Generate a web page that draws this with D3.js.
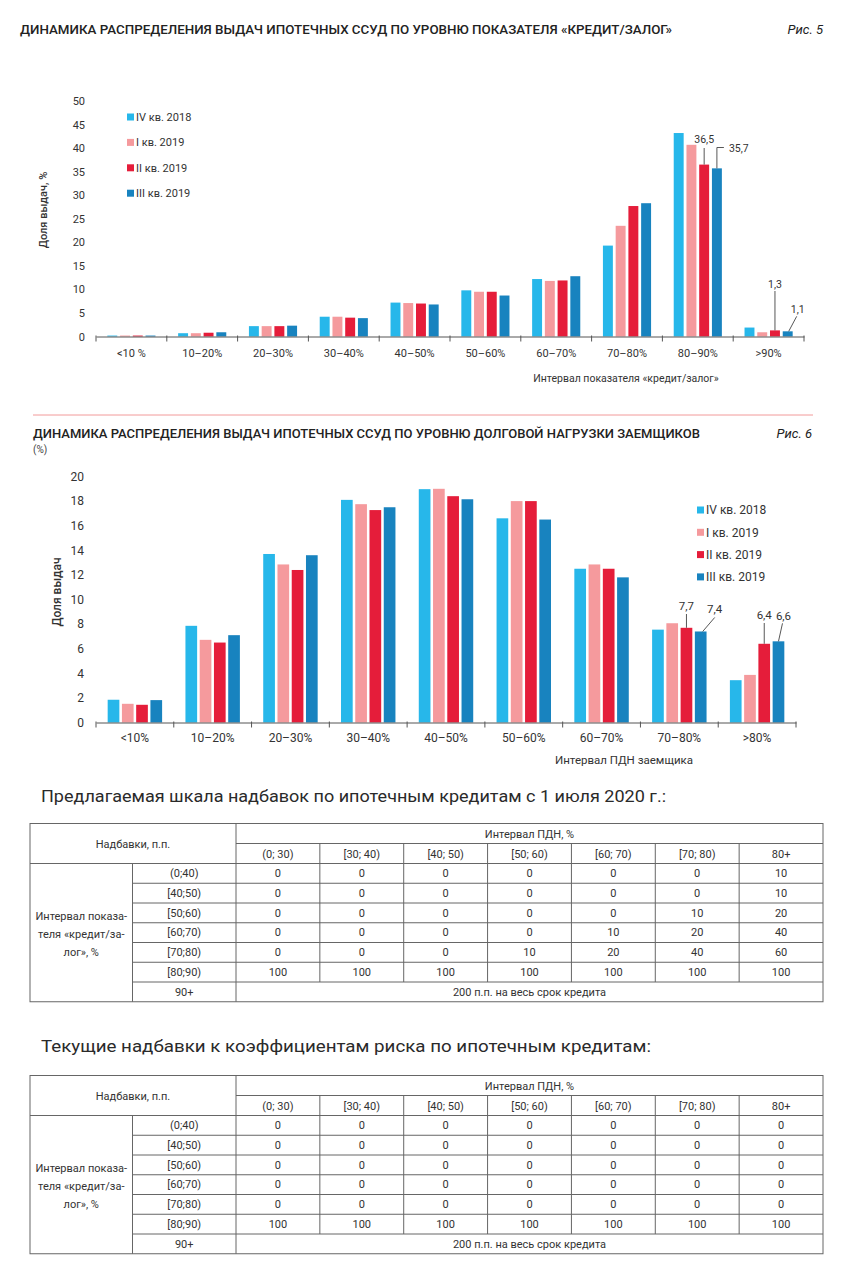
<!DOCTYPE html>
<html><head><meta charset="utf-8">
<script src="https://cdn.jsdelivr.net/npm/d3@7/dist/d3.min.js"></script>
<style>
body{margin:0;background:#fff;}
svg{display:block;font-family:Roboto,"Noto Sans",sans-serif;}
</style></head>
<body>
<script>
// ---------- DATA ----------
const seriesNames = ["IV кв. 2018", "I кв. 2019", "II кв. 2019", "III кв. 2019"];
const seriesColors = ["#27b7ea", "#f59a9d", "#e51d3a", "#1883bf"];

const ltvCategories = ["<10 %", "10–20%", "20–30%", "30–40%", "40–50%", "50–60%", "60–70%", "70–80%", "80–90%", ">90%"];
const ltvIV2018  = [0.2, 0.7, 2.2, 4.2, 7.2, 9.8, 12.2, 19.3, 43.2, 1.9];
const ltvI2019   = [0.2, 0.7, 2.2, 4.2, 7.1, 9.5, 11.8, 23.5, 40.7, 0.9];
const ltvII2019  = [0.2, 0.8, 2.2, 4.0, 7.0, 9.5, 11.9, 27.7, 36.5, 1.3];
const ltvIII2019 = [0.2, 0.9, 2.3, 3.9, 6.8, 8.7, 12.8, 28.3, 35.7, 1.1];
const ltvTicks = [0, 5, 10, 15, 20, 25, 30, 35, 40, 45, 50];
const ltvNotes = [
  {cat: "80–90%", series: 2, label: "36,5", kind: "up"},
  {cat: "80–90%", series: 3, label: "35,7", kind: "elbow"},
  {cat: ">90%",   series: 2, label: "1,3",  kind: "upTall"},
  {cat: ">90%",   series: 3, label: "1,1",  kind: "diag"}
];

const ptiCategories = ["<10%", "10–20%", "20–30%", "30–40%", "40–50%", "50–60%", "60–70%", "70–80%", ">80%"];
const ptiIV2018  = [1.85, 7.86, 13.7, 18.1, 18.97, 16.6, 12.5, 7.55, 3.44];
const ptiI2019   = [1.52, 6.72, 12.85, 17.75, 19.0, 18.0, 12.85, 8.07, 3.87];
const ptiII2019  = [1.44, 6.5, 12.4, 17.27, 18.4, 18.0, 12.5, 7.7, 6.4];
const ptiIII2019 = [1.82, 7.1, 13.6, 17.5, 18.15, 16.5, 11.8, 7.4, 6.6];
const ptiTicks = [0, 2, 4, 6, 8, 10, 12, 14, 16, 18, 20];
const ptiNotes = [
  {cat: "70–80%", series: 2, label: "7,7", kind: "up2"},
  {cat: "70–80%", series: 3, label: "7,4", kind: "diag2"},
  {cat: ">80%",   series: 2, label: "6,4", kind: "up3"},
  {cat: ">80%",   series: 3, label: "6,6", kind: "slant"}
];

const tableRowLabels = ["(0;40)", "[40;50)", "[50;60)", "[60;70)", "[70;80)", "[80;90)", "90+"];
const tableColLabels = ["(0; 30)", "[30; 40)", "[40; 50)", "[50; 60)", "[60; 70)", "[70; 80)", "80+"];
const proposedValues = [
  [0, 0, 0, 0, 0, 0, 10],
  [0, 0, 0, 0, 0, 0, 10],
  [0, 0, 0, 0, 0, 10, 20],
  [0, 0, 0, 0, 10, 20, 40],
  [0, 0, 0, 10, 20, 40, 60],
  [100, 100, 100, 100, 100, 100, 100]
];
const currentValues = [
  [0, 0, 0, 0, 0, 0, 0],
  [0, 0, 0, 0, 0, 0, 0],
  [0, 0, 0, 0, 0, 0, 0],
  [0, 0, 0, 0, 0, 0, 0],
  [0, 0, 0, 0, 0, 0, 0],
  [100, 100, 100, 100, 100, 100, 100]
];
const lastRowText = "200 п.п. на весь срок кредита";

// ---------- DRAW ----------
const W = 849, H = 1279;
const svg = d3.select("body").append("svg").attr("width", W).attr("height", H);
const TXT = "#333";

function titleText(x, y, str, size, len, weight) {
  svg.append("text").attr("x", x).attr("y", y).text(str)
    .attr("font-size", size).attr("font-weight", weight || 500).attr("fill", "#222")
    .attr("textLength", len).attr("lengthAdjust", "spacingAndGlyphs");
}

function barChart(o) {
  const g = svg.append("g");
  const x = d3.scaleBand().domain(o.cats).range([o.x0, o.x1]).padding(0);
  const bw = x.bandwidth();
  const xs = d3.scaleBand().domain(d3.range(4)).range([bw * o.gStart, bw * (1 - o.gStart)]).paddingInner(o.inner).paddingOuter(0);
  const y = d3.scaleLinear().domain([0, d3.max(o.ticks)]).range([o.yBase, o.yTop]);
  const data = o.series;

  o.cats.forEach((c, ci) => {
    data.forEach((s, si) => {
      g.append("rect")
        .attr("x", x(c) + xs(si)).attr("width", xs.bandwidth())
        .attr("y", y(s[ci])).attr("height", y(0) - y(s[ci]))
        .attr("fill", seriesColors[si]);
    });
  });

  const ya = g.append("g").attr("transform", `translate(${o.x0},0)`)
    .call(d3.axisLeft(y).tickValues(o.ticks).tickSize(0).tickPadding(o.yPad).tickFormat(d3.format("d")));
  ya.select(".domain").remove();
  ya.selectAll("text").attr("font-size", o.fs).attr("fill", TXT).attr("font-family", "Roboto, sans-serif");

  const xa = g.append("g").attr("transform", `translate(0,${y(0)})`)
    .call(d3.axisBottom(x).tickSize(0).tickPadding(o.xPad));
  xa.select(".domain").attr("stroke", "#555").attr("stroke-width", 1);
  xa.selectAll("text").attr("font-size", o.fs).attr("fill", TXT).attr("font-family", "Roboto, sans-serif");
  const bounds = o.cats.map(c => x(c)).concat([x(o.cats[o.cats.length - 1]) + bw]);
  xa.selectAll(".bt").data(bounds).join("line").attr("class", "bt")
    .attr("x1", d => d).attr("x2", d => d).attr("y1", -1).attr("y2", 5)
    .attr("stroke", "#555").attr("stroke-width", 1);

  seriesNames.forEach((n, i) => {
    const ly = o.legY + i * o.legStep;
    g.append("rect").attr("x", o.legX).attr("y", ly - 3.5).attr("width", 7).attr("height", 7).attr("fill", seriesColors[i]);
    g.append("text").attr("x", o.legX + 9).attr("y", ly).attr("dy", "0.35em").text(n)
      .attr("font-size", o.legFs).attr("fill", TXT);
  });

  g.append("text").attr("transform", `translate(${o.yTitleX},${o.yTitleY}) rotate(-90)`)
    .attr("text-anchor", "middle").attr("dy", "0.35em").text(o.yTitle)
    .attr("font-size", o.fs).attr("font-weight", 500).attr("fill", TXT);
  g.append("text").attr("x", o.xTitleX).attr("y", o.xTitleY).attr("text-anchor", "middle").text(o.xTitle)
    .attr("font-size", o.fs - 0.5).attr("fill", TXT);

  o.notes.forEach(n => {
    const cx = x(n.cat) + xs(n.series) + xs.bandwidth() / 2;
    const top = y(data[n.series][o.cats.indexOf(n.cat)]);
    const L = o.leader[n.kind];
    g.append("path").attr("d", L.path(cx, top)).attr("fill", "none").attr("stroke", "#444").attr("stroke-width", 0.9);
    const p = L.text(cx, top);
    g.append("text").attr("x", p[0]).attr("y", p[1]).attr("text-anchor", L.anchor).text(n.label)
      .attr("font-size", o.fs - 0.5).attr("fill", TXT);
  });
}

// Figure 5
titleText(20, 34, "ДИНАМИКА РАСПРЕДЕЛЕНИЯ ВЫДАЧ ИПОТЕЧНЫХ ССУД ПО УРОВНЮ ПОКАЗАТЕЛЯ «КРЕДИТ/ЗАЛОГ»", 12.5, 652);
svg.append("text").attr("x", 823).attr("y", 34).attr("text-anchor", "end").text("Рис. 5")
  .attr("font-size", 13).attr("font-style", "italic").attr("fill", "#222");

barChart({
  cats: ltvCategories, series: [ltvIV2018, ltvI2019, ltvII2019, ltvIII2019], ticks: ltvTicks,
  x0: 96, x1: 804, yBase: 336.5, yTop: 101, gStart: 0.16, inner: 0.22,
  fs: 11, yPad: 11, xPad: 13,
  legX: 127, legY: 117, legStep: 25.4, legFs: 11,
  yTitle: "Доля выдач, %", yTitleX: 43, yTitleY: 210,
  xTitle: "Интервал показателя «кредит/залог»", xTitleX: 626, xTitleY: 382,
  notes: ltvNotes,
  leader: {
    up:     {path: (cx, t) => `M${cx},${t}V148`, text: (cx, t) => [cx, 143], anchor: "middle"},
    elbow:  {path: (cx, t) => `M${cx},${t}V147.5H${cx + 7}`, text: (cx, t) => [cx + 12, 152], anchor: "start"},
    upTall: {path: (cx, t) => `M${cx},${t}V291`, text: (cx, t) => [cx, 288], anchor: "middle"},
    diag:   {path: (cx, t) => `M${cx + 1},${t}L${cx + 9},${t - 15}`, text: (cx, t) => [cx + 10, t - 18], anchor: "middle"}
  }
});

svg.append("line").attr("x1", 33).attr("x2", 813).attr("y1", 415).attr("y2", 415)
  .attr("stroke", "#f29a9a").attr("stroke-width", 1);

// Figure 6
titleText(33, 438, "ДИНАМИКА РАСПРЕДЕЛЕНИЯ ВЫДАЧ ИПОТЕЧНЫХ ССУД ПО УРОВНЮ ДОЛГОВОЙ НАГРУЗКИ ЗАЕМЩИКОВ", 12.5, 667);
svg.append("text").attr("x", 33).attr("y", 453).text("(%)").attr("font-size", 10).attr("fill", "#444");
svg.append("text").attr("x", 812).attr("y", 438).attr("text-anchor", "end").text("Рис. 6")
  .attr("font-size", 13).attr("font-style", "italic").attr("fill", "#222");

barChart({
  cats: ptiCategories, series: [ptiIV2018, ptiI2019, ptiII2019, ptiIII2019], ticks: ptiTicks,
  x0: 96, x1: 796, yBase: 722.5, yTop: 476.5, gStart: 0.15, inner: 0.18,
  fs: 12, yPad: 12, xPad: 11,
  legX: 697, legY: 510, legStep: 22.3, legFs: 12,
  yTitle: "Доля выдач", yTitleX: 57, yTitleY: 592,
  xTitle: "Интервал ПДН заемщика", xTitleX: 624, xTitleY: 764,
  notes: ptiNotes,
  leader: {
    up2:   {path: (cx, t) => `M${cx},${t}V614`, text: (cx, t) => [cx, 610], anchor: "middle"},
    diag2: {path: (cx, t) => `M${cx + 2},${t}L${cx + 14},${t - 14}`, text: (cx, t) => [cx + 14, t - 18], anchor: "middle"},
    up3:   {path: (cx, t) => `M${cx},${t}V623`, text: (cx, t) => [cx, 619], anchor: "middle"},
    slant: {path: (cx, t) => `M${cx},${t}L${cx + 4},${t - 18}`, text: (cx, t) => [cx + 5, t - 21], anchor: "middle"}
  }
});

// ---------- TABLES ----------
function table(headY, heading, headLen, top, values) {
  svg.append("text").attr("x", 41).attr("y", headY).text(heading)
    .attr("font-size", 16.5).attr("fill", "#2a2a2a").attr("textLength", headLen).attr("lengthAdjust", "spacingAndGlyphs");
  const L = 30, C1 = 132.5, C2 = 236, R = 823;
  const h1 = 20, h2 = 20;
  const rowsTop = top + h1 + h2;
  const rows = d3.scaleBand().domain(tableRowLabels).range([rowsTop, rowsTop + 7 * 19.75]);
  const cols = d3.scaleBand().domain(tableColLabels).range([C2, R]);
  const bottom = rowsTop + 7 * 19.75;
  const g = svg.append("g").attr("stroke", "#666").attr("stroke-width", 1).attr("fill", "none");
  g.append("rect").attr("x", L).attr("y", top).attr("width", R - L).attr("height", bottom - top);
  g.append("line").attr("x1", C2).attr("x2", R).attr("y1", top + h1).attr("y2", top + h1);
  g.append("line").attr("x1", L).attr("x2", R).attr("y1", rowsTop).attr("y2", rowsTop);
  tableRowLabels.slice(1).forEach(r => g.append("line").attr("x1", C1).attr("x2", R).attr("y1", rows(r)).attr("y2", rows(r)));
  g.append("line").attr("x1", C1).attr("x2", C1).attr("y1", rowsTop).attr("y2", bottom);
  g.append("line").attr("x1", C2).attr("x2", C2).attr("y1", top).attr("y2", bottom);
  tableColLabels.slice(1).forEach(c => {
    g.append("line").attr("x1", cols(c)).attr("x2", cols(c)).attr("y1", top + h1)
      .attr("y2", rows("90+"));
  });
  const t = svg.append("g").attr("font-size", 11).attr("fill", TXT).attr("text-anchor", "middle");
  const cw = cols.bandwidth(), rh = rows.bandwidth();
  t.append("text").attr("x", (L + C2) / 2).attr("y", top + (h1 + h2) / 2 + 1).attr("dy", "0.35em").text("Надбавки, п.п.");
  t.append("text").attr("x", (C2 + R) / 2).attr("y", top + h1 / 2 + 1).attr("dy", "0.35em").text("Интервал ПДН, %");
  tableColLabels.forEach(c => t.append("text").attr("x", cols(c) + cw / 2).attr("y", top + h1 + h2 / 2 + 1).attr("dy", "0.35em").text(c));
  tableRowLabels.forEach(r => t.append("text").attr("x", (C1 + C2) / 2).attr("y", rows(r) + rh / 2).attr("dy", "0.35em").text(r));
  values.forEach((row, ri) => row.forEach((v, ci) => {
    t.append("text").attr("x", cols(tableColLabels[ci]) + cw / 2).attr("y", rows(tableRowLabels[ri]) + rh / 2).attr("dy", "0.35em").text(v);
  }));
  t.append("text").attr("x", (C2 + R) / 2).attr("y", rows("90+") + rh / 2).attr("dy", "0.35em").text(lastRowText);
  ["Интервал показа-", "теля «кредит/за-", "лог», %"].forEach((s, i) => {
    t.append("text").attr("x", (L + C1) / 2).attr("y", rowsTop + 53 + i * 18).attr("dy", "0.35em").text(s);
  });
}

table(802, "Предлагаемая шкала надбавок по ипотечным кредитам с 1 июля 2020 г.:", 625, 823.5, proposedValues);
table(1052, "Текущие надбавки к коэффициентам риска по ипотечным кредитам:", 610, 1075.5, currentValues);
</script>
</body></html>
